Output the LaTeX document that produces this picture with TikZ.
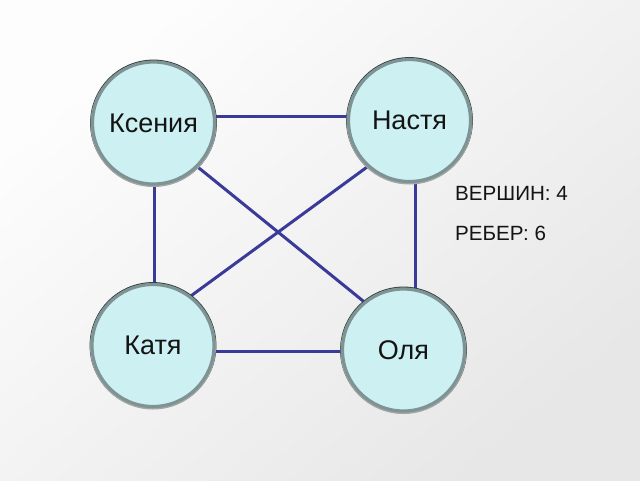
\documentclass[tikz,border=0pt]{standalone}
\usepackage{fontspec}
\setmainfont{Liberation Sans}
\usetikzlibrary{backgrounds}
\definecolor{bgA}{HTML}{FDFDFD}
\definecolor{bgB}{HTML}{E7E7E7}
\definecolor{nodefill}{HTML}{CDF0F3}
\definecolor{ringc}{HTML}{7E9494}
\definecolor{ringdark}{HTML}{2E3A3A}
\definecolor{edgec}{HTML}{3A3A98}
\tikzset{
  vert/.style={circle, minimum size=122pt, inner sep=0pt, outer sep=0pt,
    fill=nodefill, draw=ringc, line width=3.2pt,
    preaction={draw=ringdark, line width=4.8pt},
    preaction={draw=black!35, line width=4pt, transform canvas={yshift=-1pt}},
    font=\fontsize{27}{32}\selectfont, text=black!92},
  info/.style={anchor=west, inner sep=0pt, font=\fontsize{20.6}{25}\selectfont, text=black!92},
  edge/.style={draw=edgec, line width=3pt}
}
\begin{document}
\begin{tikzpicture}[x=1pt,y=-1pt]
\useasboundingbox (0,0) rectangle (640,480);
\node[vert] (ks) at (153.5,123) {Ксения};
\node[vert] (ns) at (409.5,120.5) {Настя};
\node[vert] (kt) at (153,345.5) {Катя};
\node[vert] (ol) at (403.5,350) {Оля};
\node[info] (v) at (455,193) {ВЕРШИН: 4};
\node[info] (r) at (455,233) {РЕБЕР: 6};
\begin{pgfonlayer}{background}
\shade[top color=bgA, bottom color=bgB, shading angle=40] (0,0) rectangle (640,480);
\draw[edge] ([yshift=6.3pt]ks.center) -- ([yshift=3.8pt]ns.center);
\draw[edge] ([xshift=0.5pt]ks.center) -- ([xshift=1pt]kt.center);
\draw[edge] ([xshift=5.5pt]ns.center) -- ([xshift=11.5pt]ol.center);
\draw[edge] ([yshift=-6.2pt]kt.center) -- ([yshift=-1.7pt]ol.center);
\draw[edge] (ks.-45) -- (ol.129);
\draw[edge] (ns.228) -- (kt.53);
\end{pgfonlayer}
\end{tikzpicture}
\end{document}
